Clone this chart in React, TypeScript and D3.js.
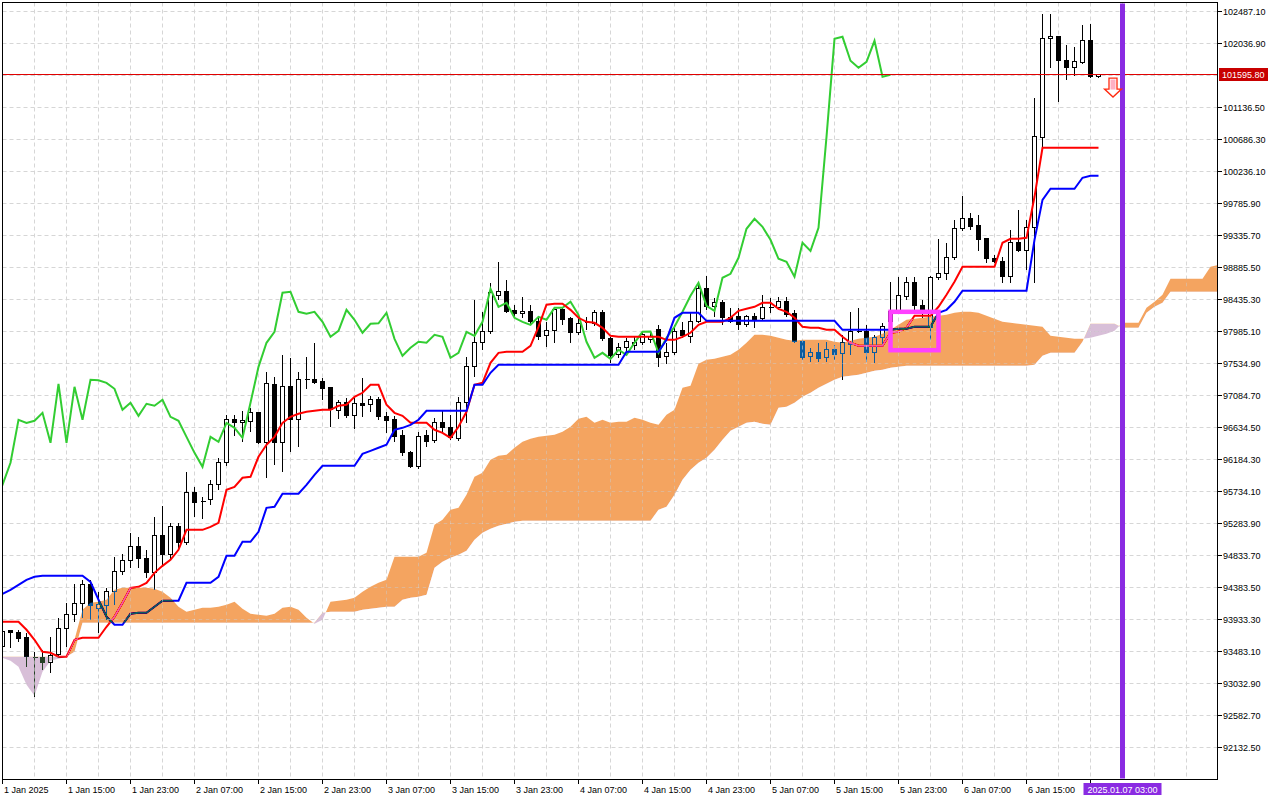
import * as d3 from "d3"

// H1 bars, first bar = 1 Jan 2025 07:00
const opens = [
  93550, 93775, 93747, 93676, 93395, 93395, 93325, 93437, 93803, 94000,
  94155, 94421, 94084, 94127, 94323, 94604, 94759, 94956, 94787, 94590,
  95111, 94843, 95237, 95012, 95716, 95589, 95617, 95828, 96138, 96743,
  96700, 96714, 96841, 96419, 97235, 96419, 97207, 96743, 97305, 97305,
  97277, 97193, 96869, 96982, 96799, 96968, 96954, 97024, 96785, 96743,
  96518, 96278, 96081, 96518, 96447, 96700, 96630, 96475, 96982, 97488,
  97826, 97981, 98487, 98544, 98276, 98234, 98262, 98121, 97924, 97995,
  98290, 98164, 97967, 98107, 98093, 98248, 97882, 97657, 97756, 97784,
  97826, 97868, 98009, 97629, 97685, 97995, 97910, 98121, 98586, 98333,
  98389, 98178, 98192, 98079, 98192, 98164, 98318, 98318, 98403, 98234,
  97840, 97629, 97685, 97615, 97728, 97671, 97798, 97981, 97981, 97685,
  97896, 98121, 98276, 98473, 98670, 98347, 98037, 98741, 98797, 99022,
  99430, 99571, 99472, 99289, 99008, 98966, 98755, 99233, 99120, 99444,
  100710, 102103, 102131, 101794, 101695, 101766, 102075, 101569,
]
const highs = [
  93789, 93789, 93789, 93747, 93479, 93508, 93690, 93958, 94169, 94436,
  94491, 94491, 94323, 94379, 94815, 94857, 95153, 95096, 94914, 95378,
  95533, 95293, 95293, 96011, 95800, 95659, 95898, 96208, 96813, 96813,
  96869, 96911, 96850, 97418, 97348, 97657, 97615, 97418, 97629, 97826,
  97334, 97200, 97024, 97052, 97052, 97334, 97080, 97066, 96855, 96799,
  96602, 96306, 96574, 96602, 96771, 96883, 96813, 97066, 97629, 98431,
  98262, 98670, 98966, 98712, 98361, 98473, 98361, 98192, 98121, 98333,
  98333, 98192, 98192, 98192, 98290, 98290, 97910, 97826, 97896, 97910,
  97981, 97967, 98079, 97826, 98079, 98121, 98248, 98670, 98769, 98459,
  98431, 98318, 98318, 98220, 98248, 98501, 98459, 98473, 98473, 98290,
  97868, 97756, 97826, 97840, 97798, 97939, 98262, 98318, 98079, 97939,
  98107, 98684, 98755, 98755, 98755, 98431, 98769, 99289, 99233, 99557,
  99894, 99655, 99627, 99300, 99064, 99036, 99416, 99697, 99557, 101273,
  102455, 102455, 102140, 102019, 101991, 102300, 102314, 101605,
]
const lows = [
  93522, 93536, 93620, 93268, 92846, 93226, 93184, 93395, 93550, 93902,
  93958, 93930, 93747, 93930, 94141, 94562, 94660, 94660, 94520, 94351,
  94674, 94787, 94914, 94984, 95378, 95350, 95547, 95758, 96095, 96518,
  96433, 96574, 96405, 95927, 96110, 96011, 96292, 96363, 97179, 97249,
  97024, 96644, 96757, 96771, 96616, 96785, 96855, 96743, 96560, 96433,
  96236, 96067, 96053, 96363, 96419, 96574, 96461, 96447, 96700, 97348,
  97728, 97953, 98431, 98248, 98192, 98178, 98079, 97868, 97770, 97826,
  98079, 97826, 97939, 98009, 98065, 97854, 97545, 97615, 97699, 97728,
  97798, 97826, 97488, 97531, 97657, 97896, 97826, 98107, 98290, 98192,
  98079, 98107, 98009, 98051, 98037, 98150, 98248, 98290, 98192, 97826,
  97587, 97559, 97559, 97559, 97587, 97305, 97657, 97967, 97559, 97545,
  97798, 98009, 98234, 98431, 98290, 98178, 97868, 98712, 98712, 98994,
  99402, 99416, 99120, 98952, 98952, 98670, 98670, 99106, 98853, 98670,
  100584, 101695, 101217, 101526, 101583, 101752, 101555, 101555,
]
const closes = [
  93761, 93747, 93662, 93409, 93381, 93325, 93423, 93803, 94000, 94155,
  94422, 94127, 94141, 94323, 94604, 94759, 94956, 94787, 94590, 95111,
  94843, 95237, 95012, 95716, 95575, 95575, 95828, 96138, 96743, 96700,
  96729, 96841, 96419, 97249, 96419, 97207, 96743, 97305, 97300, 97263,
  97179, 96883, 96982, 96799, 96968, 96940, 97024, 96785, 96729, 96503,
  96278, 96081, 96503, 96433, 96700, 96630, 96489, 96982, 97488, 97826,
  97981, 98530, 98544, 98262, 98234, 98262, 98121, 97910, 97995, 98290,
  98150, 97967, 98093, 98100, 98248, 97882, 97643, 97756, 97840, 97826,
  97939, 97910, 97615, 97685, 97981, 97924, 98121, 98586, 98333, 98389,
  98178, 98121, 98079, 98192, 98150, 98318, 98320, 98403, 98220, 97840,
  97615, 97685, 97601, 97728, 97657, 97826, 97981, 97985, 97685, 97896,
  98051, 98262, 98487, 98670, 98347, 98276, 98741, 98797, 99022, 99430,
  99571, 99458, 99275, 99008, 98966, 98755, 99233, 99120, 99444, 100724,
  102103, 102131, 101794, 101695, 101780, 102075, 101569, 101595.8,
]

// Ichimoku (9, 26, 52)
const tenkan = [
  93901, 93901, 93901, 93789, 93648, 93479, 93465, 93409, 93409, 93648,
  93676, 93676, 93676, 93831, 93972, 94169, 94379, 94393, 94449, 94590,
  94688, 94773, 94914, 95195, 95195, 95195, 95237, 95293, 95758, 95800,
  95927, 95941, 96222, 96391, 96503, 96700, 96785, 96827, 96855, 96869,
  96883, 96883, 96940, 96954, 97066, 97123, 97235, 97235, 96954, 96841,
  96799, 96700, 96700, 96700, 96602, 96560, 96489, 96644, 96855, 97235,
  97263, 97545, 97685, 97699, 97699, 97699, 97784, 98051, 98361, 98375,
  98375, 98290, 98178, 98121, 98107, 98037, 97924, 97910, 97910, 97910,
  97910, 97910, 97910, 97868, 97868, 97910, 97967, 98079, 98121, 98121,
  98121, 98178, 98276, 98304, 98333, 98389, 98389, 98304, 98262, 98178,
  98051, 98037, 98037, 98009, 98009, 97910, 97826, 97784, 97784, 97784,
  97784, 97967, 97981, 98037, 98206, 98206, 98206, 98333, 98501, 98684,
  98895, 98895, 98895, 98895, 98895, 99233, 99289, 99289, 99303, 99880,
  100570, 100570, 100570, 100570, 100570, 100570, 100570, 100570,
]
const kijun = [
  94295, 94351, 94421, 94491, 94534, 94548, 94548, 94548, 94548, 94548,
  94548, 94463, 94211, 93972, 93859, 93859, 94014, 94028, 94028, 94113,
  94197, 94197, 94197, 94449, 94449, 94449, 94449, 94534, 94829, 94829,
  95026, 95026, 95167, 95504, 95519, 95702, 95702, 95702, 95828, 95969,
  96095, 96095, 96095, 96095, 96095, 96264, 96306, 96349, 96391, 96602,
  96630, 96672, 96743, 96869, 96869, 96869, 96869, 96869, 96869, 97235,
  97235, 97404, 97516, 97516, 97516, 97516, 97516, 97516, 97516, 97516,
  97516, 97516, 97516, 97516, 97516, 97516, 97516, 97516, 97699, 97699,
  97699, 97699, 97699, 97868, 98178, 98248, 98248, 98248, 98135, 98135,
  98135, 98135, 98135, 98135, 98135, 98135, 98135, 98135, 98135, 98135,
  98135, 98135, 98135, 98135, 98135, 98009, 98009, 98009, 98009, 98009,
  98009, 98009, 98023, 98023, 98051, 98051, 98051, 98248, 98290, 98403,
  98558, 98558, 98558, 98558, 98558, 98558, 98558, 98558, 98558, 99275,
  99838, 99993, 99993, 99993, 99993, 100148, 100176, 100176,
]
// Senkou spans, already shifted 26 bars forward (index = bar position)
const spanA = [
  93395, 93353, 93268, 93015, 92860, 93198, 93353, 93381, 93409, 93648,
  94070, 94169, 94183, 94211, 94351, 94379, 94379, 94379, 94379, 94365,
  94323, 94239, 94113, 94042, 94070, 94098, 94098, 94113, 94141, 94183,
  94084, 94014, 94000, 93986, 94014, 94098, 94113, 94070, 93958, 93874,
  93930, 94183, 94197, 94211, 94239, 94323, 94393, 94449, 94491, 94815,
  94815, 94815, 94815, 94871, 95265, 95336, 95476, 95504, 95687, 95941,
  95997, 96180, 96236, 96250, 96349, 96433, 96475, 96503, 96518, 96532,
  96574, 96644, 96757, 96785, 96700, 96743, 96700, 96714, 96714, 96771,
  96743, 96700, 96672, 96813, 96883, 97193, 97221, 97531, 97587, 97601,
  97629, 97657, 97728, 97826, 97939, 97939, 97924, 97896, 97868, 97854,
  97868, 97868, 97868, 97868, 97840, 97826, 97854, 97882, 97896, 97910,
  97953, 98009, 98079, 98150, 98164, 98178, 98192, 98206, 98220, 98248,
  98262, 98262, 98248, 98206, 98164, 98121, 98107, 98093, 98079, 98065,
  98051, 97924, 97910, 97896, 97882, 97882, 97896, 97924, 97953, 97995,
  98107, 98107, 98107, 98318, 98403, 98501, 98727, 98727, 98727, 98727,
  98727, 98895, 98923,
]
const spanB = [
  93409, 93409, 93409, 93409, 93409, 93409, 93409, 93409, 93409, 93479,
  93888, 93888, 93888, 93888, 93888, 93888, 93888, 93888, 93888, 93888,
  93888, 93888, 93888, 93888, 93888, 93888, 93888, 93888, 93888, 93888,
  93888, 93888, 93888, 93888, 93888, 93888, 93888, 93888, 93888, 93888,
  94028, 94042, 94042, 94042, 94042, 94070, 94084, 94098, 94113, 94113,
  94211, 94239, 94253, 94281, 94660, 94745, 94801, 94843, 94899, 95054,
  95153, 95209, 95251, 95279, 95307, 95322, 95322, 95322, 95322, 95322,
  95322, 95322, 95322, 95322, 95322, 95322, 95322, 95322, 95322, 95322,
  95322, 95322, 95476, 95519, 95687, 95898, 96039, 96138, 96208, 96320,
  96461, 96588, 96644, 96700, 96714, 96686, 96672, 96911, 96925, 96982,
  97066, 97123, 97193, 97249, 97305, 97348, 97362, 97376, 97404, 97432,
  97446, 97474, 97488, 97502, 97502, 97502, 97502, 97502, 97502, 97502,
  97502, 97502, 97502, 97502, 97502, 97502, 97502, 97502, 97502, 97516,
  97643, 97685, 97685, 97685, 97685, 97840, 98093, 98093, 98093, 98093,
  98037, 98037, 98037, 98248, 98333, 98389, 98544, 98544, 98544, 98544,
  98544, 98544, 98544,
]
const chikouShift = 26

const priceTicks = [
  92132.5, 92582.7, 93032.9, 93483.1, 93933.3, 94383.5, 94833.7, 95283.9,
  95734.1, 96184.3, 96634.5, 97084.7, 97534.9, 97985.1, 98435.3, 98885.5,
  99335.7, 99785.9, 100236.1, 100686.3, 101136.5, 101586.7, 102036.9, 102487.1,
]
const timeLabels = [
  "1 Jan 2025", "1 Jan 15:00", "1 Jan 23:00", "2 Jan 07:00", "2 Jan 15:00",
  "2 Jan 23:00", "3 Jan 07:00", "3 Jan 15:00", "3 Jan 23:00", "4 Jan 07:00",
  "4 Jan 15:00", "4 Jan 23:00", "5 Jan 07:00", "5 Jan 15:00", "5 Jan 23:00",
  "6 Jan 07:00", "6 Jan 15:00",
]
const labelStep = 8
const gridStep = 4
const tickBars = [0, 8, 16, 24, 32, 40, 48, 56, 64, 72, 80, 88, 96, 104, 112, 120, 128, 136]

const currentPrice = 101595.8
const markerBar = 140
const markerLabel = "2025.01.07 03:00"
const box = { from: 111, to: 117, high: 98262, low: 97722 }
const signal = { bar: 139, price: 101551 }

const W = 1280
const H = 800
const L = 2.5
const T = 2.5
const R = 1217.5
const B = 779.5
const FONT = "'Liberation Sans', Arial, sans-serif"

export default function App() {
  const x = d3.scaleLinear().domain([0, 1]).range([2.5, 10.5])
  const y = d3.scaleLinear().domain([92132.5, 102487.1]).range([747.5, 11.5])
  const fmt = d3.format(".2f")

  const line = d3
    .line<[number, number]>()
    .x((d) => x(d[0]))
    .y((d) => y(d[1]))

  const tenkanPath = line(tenkan.map((v, i) => [i, v]))
  const kijunPath = line(kijun.map((v, i) => [i, v]))
  const chikouPath = line(
    closes.map((v, i) => [i - chikouShift, v] as [number, number]).filter((d) => d[0] >= -1),
  )

  const cloud = spanA.map((a, i) => ({ i, a, b: spanB[i] }))
  const between = d3
    .area<any>()
    .x((d) => x(d.i))
    .y0((d) => y(d.a))
    .y1((d) => y(d.b))(cloud)
  const aboveB = d3
    .area<any>()
    .x((d) => x(d.i))
    .y0(0)
    .y1((d) => y(d.b))(cloud)
  const belowB = d3
    .area<any>()
    .x((d) => x(d.i))
    .y0((d) => y(d.b))
    .y1(H)(cloud)

  const vGrid: number[] = []
  for (let i = gridStep; x(i) < R; i += gridStep) vGrid.push(x(i))
  const hGrid = priceTicks.map((p) => y(p))

  const gridLines = (stroke: string, opacity = 1) => (
    <g stroke={stroke} strokeOpacity={opacity} strokeDasharray="4,3" strokeWidth={1}>
      {vGrid.map((gx, k) => (
        <line key={"v" + k} x1={gx} x2={gx} y1={T} y2={B} />
      ))}
      {hGrid.map((gy, k) => (
        <line key={"h" + k} x1={L} x2={R} y1={gy} y2={gy} />
      ))}
    </g>
  )

  const yPrice = Math.round(y(currentPrice)) - 0.5
  const xm = x(markerBar)
  const ax = x(signal.bar) - 1.5
  const ay = y(signal.price)

  return (
    <svg
      width={W}
      height={H}
      style={{ position: "absolute", left: 0, top: 0, background: "#fff" }}
      fontFamily={FONT}
    >
      <defs>
        <clipPath id="plot">
          <rect x={L + 0.5} y={T + 0.5} width={R - L - 1} height={B - T - 1} />
        </clipPath>
        <clipPath id="upper">
          <path d={aboveB || ""} />
        </clipPath>
        <clipPath id="lower">
          <path d={belowB || ""} />
        </clipPath>
        <clipPath id="cloud">
          <path d={between || ""} />
        </clipPath>
      </defs>

      <rect width={W} height={H} fill="#fff" />

      <g clipPath="url(#plot)">
        <rect x={0} y={0} width={W} height={H} fill="#fff" />
        {gridLines("#d6d6d6")}

        {/* candles */}
        <g shapeRendering="crispEdges">
          {closes.map((c, i) => {
            const o = opens[i]
            const cx = x(i)
            const top = y(Math.max(o, c))
            const bot = y(Math.min(o, c))
            const bull = c >= o
            return (
              <g key={i}>
                <line x1={cx} x2={cx} y1={y(highs[i])} y2={y(lows[i])} stroke="#000" />
                {bot - top < 1 ? (
                  <line x1={cx - 2} x2={cx + 3} y1={top} y2={top} stroke="#000" />
                ) : (
                  <rect
                    x={cx - 2}
                    y={top}
                    width={4}
                    height={bot - top}
                    fill={bull ? "#fff" : "#000"}
                    stroke="#000"
                  />
                )}
              </g>
            )
          })}
        </g>

        <path d={chikouPath || ""} fill="none" stroke="#32CD32" strokeWidth={2} />
        <path d={tenkanPath || ""} fill="none" stroke="#FF0000" strokeWidth={2} />
        <path d={kijunPath || ""} fill="none" stroke="#0000FF" strokeWidth={2} />

        {/* kumo, drawn like XOR over the chart */}
        <path d={between || ""} fill="#0B5B9F" clipPath="url(#upper)" style={{ mixBlendMode: "difference" }} />
        <path d={between || ""} fill="#274027" clipPath="url(#lower)" style={{ mixBlendMode: "difference" }} />
        <g clipPath="url(#cloud)">{gridLines("#ffffff", 0.45)}</g>
      </g>

      <line
        x1={L}
        x2={R}
        y1={yPrice}
        y2={yPrice}
        stroke="#E00000"
        strokeWidth={1}
        shapeRendering="crispEdges"
      />
      <line x1={xm} x2={xm} y1={T + 1} y2={B - 1} stroke="#8A2BE2" strokeWidth={5} />

      <rect
        x={x(box.from)}
        y={y(box.high)}
        width={x(box.to) - x(box.from)}
        height={y(box.low) - y(box.high)}
        fill="none"
        stroke="#FF40FF"
        strokeWidth={4.5}
      />

      <g transform={`translate(${ax},${ay})`}>
        <polygon
          points="-4,0 4,0 4,11 8.5,11 0,19 -8.5,11 -4,11"
          fill="#fff"
          stroke="#FF2A10"
          strokeWidth={1.3}
        />
        <rect x={-2.5} y={1.5} width={5} height={10} fill="#FFB0C4" />
      </g>

      {/* frame */}
      <rect x={L} y={T} width={R - L} height={B - T} fill="none" stroke="#000" shapeRendering="crispEdges" />

      {/* price axis */}
      <g fontSize={9} fill="#000" shapeRendering="crispEdges">
        {priceTicks.map((p, k) => {
          const ty = y(p)
          if (Math.abs(ty - yPrice) < 9) return null
          return (
            <g key={k}>
              <line x1={R} x2={R + 4} y1={ty} y2={ty} stroke="#000" />
              <text x={1223} y={ty + 3.3}>
                {fmt(p)}
              </text>
            </g>
          )
        })}
      </g>
      <rect x={1219} y={yPrice - 6.5} width={49} height={13} fill="#C80000" />
      <text x={1222} y={yPrice + 3.3} fontSize={9} fill="#fff">
        {fmt(currentPrice)}
      </text>

      {/* time axis */}
      <g fontSize={9} fill="#000" shapeRendering="crispEdges">
        {tickBars.map((b) => (
          <line key={b} x1={x(b)} x2={x(b)} y1={B} y2={B + 4} stroke="#000" />
        ))}
        {timeLabels.map((t, k) => (
          <text key={t} x={x(k * labelStep) + 1.5} y={792.5}>
            {t}
          </text>
        ))}
      </g>
      <rect x={xm - 39} y={783} width={78} height={12} fill="#8A2BE2" />
      <text x={xm} y={792.5} fontSize={9} fill="#fff" textAnchor="middle">
        {markerLabel}
      </text>
    </svg>
  )
}
